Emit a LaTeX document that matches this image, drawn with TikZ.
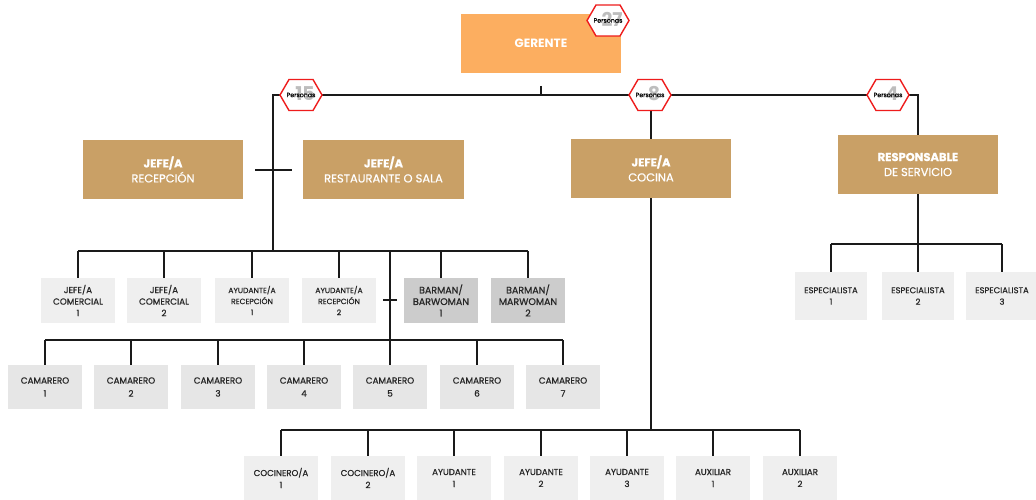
\documentclass[tikz,border=0pt]{standalone}
\usepackage{fontspec}
\setmainfont{Poppins}
\newfontfamily\medfont[FakeBold=0.7]{Poppins}
\usetikzlibrary{calc}
\definecolor{gorange}{HTML}{FCAE60}
\definecolor{gtan}{HTML}{C9A066}
\definecolor{glight}{HTML}{EFEFEF}
\definecolor{gcam}{HTML}{E6E6E6}
\definecolor{gbar}{HTML}{CCCCCC}
\definecolor{gline}{HTML}{1A1A1A}
\definecolor{gnum}{HTML}{BDBDBD}
\definecolor{hexred}{HTML}{EE1C1C}
\tikzset{
  conn/.style={draw=gline, line width=1.5pt},
  headbox/.style={fill=gtan, text=white, minimum width=160pt, minimum height=59pt, inner sep=0pt, align=center, font=\medfont\fontsize{11.5}{15}\selectfont},
  topbox/.style={headbox, fill=gorange, font=\fontsize{12}{15}\selectfont\bfseries},
  smallbox/.style={fill=glight, text=black!85, minimum width=74pt, minimum height=45pt, inner sep=0pt, align=center, font=\medfont\fontsize{8.8}{11.5}\selectfont},
  cambox/.style={smallbox, fill=gcam, minimum height=44pt, font=\medfont\fontsize{8.8}{13}\selectfont},
  barbox/.style={smallbox, fill=gbar, font=\medfont\fontsize{9.5}{11.5}\selectfont},
  ayubox/.style={smallbox, font=\medfont\fontsize{7.6}{11}\selectfont},
  espbox/.style={smallbox, minimum width=72pt, minimum height=48pt, font=\medfont\fontsize{8.4}{11.5}\selectfont},
  cocbox/.style={smallbox, minimum height=44pt, font=\medfont\fontsize{8.6}{12}\selectfont},
  badgenum/.style={text=gnum, font=\fontsize{19}{19}\selectfont\bfseries, inner sep=0pt},
  badgetxt/.style={text=black, font=\medfont\fontsize{6.3}{7}\selectfont, inner sep=0pt},
  hexborder/.style={draw=hexred, fill=white, line width=1.4pt, line join=miter}
}
\newcommand{\hexbadge}[4]{%
  \coordinate (#1) at (#2,#3);
  \path[hexborder] ($(#1)+(-21,0)$) -- ++(9,-15.5) -- ++(24,0) -- ++(9,15.5) -- ++(-9,15.5) -- ++(-24,0) -- cycle;
  \node[badgenum] (#1-n) at ($(#1)+(4,-1)$) {#4};
  \node[badgetxt] (#1-p) at (#1) {Personas};
}
\begin{document}
\begin{tikzpicture}[x=1pt,y=-1pt]
\useasboundingbox[fill=white] (0,0) rectangle (1036,500);

% --- top level
\node[topbox] (ger) at (541,43.5) {GERENTE};
\node[headbox] (rec) at (163,169.5) {\textbf{JEFE/A}\\RECEPCIÓN};
\node[headbox, minimum width=161pt] (res) at (383.5,169.5) {\textbf{JEFE/A}\\RESTAURANTE O SALA};
\node[headbox] (coc) at (651,168.5) {\textbf{JEFE/A}\\COCINA};
\node[headbox] (rsv) at (918,164.5) {\textbf{RESPONSABLE}\\DE SERVICIO};

% --- row 2
\node[smallbox] (jc1) at (78,300.5) {JEFE/A\\COMERCIAL\\1};
\node[smallbox] (jc2) at (164,300.5) {JEFE/A\\COMERCIAL\\2};
\node[ayubox] (ar1) at (252,300.5) {AYUDANTE/A\\RECEPCIÓN\\1};
\node[ayubox] (ar2) at (339,300.5) {AYUDANTE/A\\RECEPCIÓN\\2};
\node[barbox] (bm1) at (441,300.5) {BARMAN/\\BARWOMAN\\1};
\node[barbox] (bm2) at (528,300.5) {BARMAN/\\MARWOMAN\\2};

% --- camareros
\foreach \i/\x in {1/45,2/131,3/218,4/304,5/390,6/477,7/563}{
  \node[cambox] (cam\i) at (\x,387) {CAMARERO\\\i};
}

% --- cocina
\node[cocbox] (ck1) at (281,478) {COCINERO/A\\1};
\node[cocbox] (ck2) at (368,478) {COCINERO/A\\2};
\node[cocbox] (ay1) at (454,478) {AYUDANTE\\1};
\node[cocbox] (ay2) at (541,478) {AYUDANTE\\2};
\node[cocbox] (ay3) at (627,478) {AYUDANTE\\3};
\node[cocbox] (ax1) at (713,478) {AUXILIAR\\1};
\node[cocbox] (ax2) at (800,478) {AUXILIAR\\2};

% --- especialistas
\node[espbox] (es1) at (831,296) {ESPECIALISTA\\1};
\node[espbox] (es2) at (918,296) {ESPECIALISTA\\2};
\node[espbox] (es3) at (1002,296) {ESPECIALISTA\\3};

% --- coordinates
\coordinate (gtick) at (541,86);
\coordinate (busL) at (273,95);
\coordinate (busM) at (541,95);
\coordinate (busC) at (651,95);
\coordinate (busR) at (918,95);
\coordinate (bus2) at (273,251);
\coordinate (crossL) at (255,170);
\coordinate (crossR) at (292,170);
\coordinate (j3top) at (390,251);
\coordinate (j3bot) at (390,340);
\coordinate (tickL) at (383,300);
\coordinate (tickR) at (397,300);
\coordinate (bus4) at (651,430);
\coordinate (bus5) at (918,244);

% --- connectors
\draw[conn] (gtick) -- (busM);
\draw[conn] (bus2) -- (busL) -- (busR) -- (rsv.north);
\draw[conn] (busC) -- (coc.north);
\draw[conn] (crossL) -- (crossR);
% row 2 bus
\draw[conn] (jc1.north |- bus2) -- (bm2.north |- bus2);
\foreach \n in {jc1,jc2,ar1,ar2,bm1,bm2}{ \draw[conn] (\n.north |- bus2) -- (\n.north); }
% camareros bus
\draw[conn] (j3top) -- (j3bot);
\draw[conn] (tickL) -- (tickR);
\draw[conn] (cam1.north |- j3bot) -- (cam7.north |- j3bot);
\foreach \i in {1,...,7}{ \draw[conn] (cam\i.north |- j3bot) -- (cam\i.north); }
% cocina bus
\draw[conn] (coc.south) -- (bus4);
\draw[conn] (ck1.north |- bus4) -- (ax2.north |- bus4);
\foreach \n in {ck1,ck2,ay1,ay2,ay3,ax1,ax2}{ \draw[conn] (\n.north |- bus4) -- (\n.north); }
% especialistas bus
\draw[conn] (rsv.south) -- (bus5);
\draw[conn] (es1.north |- bus5) -- (es3.north |- bus5);
\foreach \n in {es1,es2,es3}{ \draw[conn] (\n.north |- bus5) -- (\n.north); }

% --- badges
\hexbadge{hg}{608}{20.5}{27}
\hexbadge{h15}{301}{95}{15}
\hexbadge{h8}{650}{95}{8}
\hexbadge{h4}{888}{95}{4}
\end{tikzpicture}
\end{document}
